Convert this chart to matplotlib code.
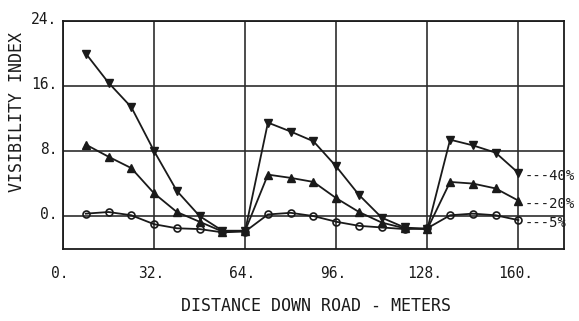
import numpy as np
import matplotlib
matplotlib.use("Agg")
import matplotlib.pyplot as plt
import matplotlib.transforms as mtransforms

# distance down road (m) and visibility index for each contrast level
dist = [8, 16, 24, 32, 40, 48, 56, 64, 72, 80, 88, 96, 104, 112, 120, 128, 136, 144, 152, 160]
vi_40 = [20.0, 16.4, 13.4, 8.0, 3.1, 0.0, -1.8, -1.8, 11.5, 10.4, 9.2, 6.1, 2.6, -0.2, -1.4, -1.6, 9.4, 8.7, 7.8, 5.3]
vi_20 = [8.8, 7.3, 5.9, 2.8, 0.5, -0.7, -1.9, -1.8, 5.1, 4.7, 4.2, 2.2, 0.5, -0.8, -1.5, -1.6, 4.2, 4.0, 3.4, 1.9]
vi_5 = [0.3, 0.5, 0.1, -1.0, -1.5, -1.6, -2.0, -1.9, 0.2, 0.4, 0.0, -0.7, -1.2, -1.4, -1.6, -1.5, 0.1, 0.3, 0.1, -0.5]
series_labels = ["---40%", "---20%", "---5%"]

xticks = [0, 32, 64, 96, 128, 160]
xtick_labels = ["0.", "32.", "64.", "96.", "128.", "160."]
yticks = [0, 8, 16, 24]
ytick_labels = ["0.", "8.", "16.", "24."]

ink = "#1a1a1a"
mono = "DejaVu Sans Mono"

fig = plt.figure(figsize=(5.79, 3.21), dpi=100)
ax = fig.add_axes([0.1088, 0.2243, 0.8652, 0.7103])

ax.set_xlim(0, 176)
ax.set_ylim(-4.05, 24)

ax.set_xticks(xticks)
ax.set_xticklabels(xtick_labels, fontfamily=mono, fontsize=10.5, color=ink)
ax.set_yticks(yticks)
ax.set_yticklabels(ytick_labels, fontfamily=mono, fontsize=10.5, color=ink)
ax.tick_params(length=0)
ax.tick_params(axis="x", pad=12)
ax.tick_params(axis="y", pad=4)

# nudge tick labels like the plotter output
for lab in ax.get_xticklabels():
    lab.set_transform(lab.get_transform() + mtransforms.ScaledTranslation(-3 / 100, 0, fig.dpi_scale_trans))
for lab in ax.get_yticklabels():
    lab.set_transform(lab.get_transform() + mtransforms.ScaledTranslation(0, 3 / 100, fig.dpi_scale_trans))

ax.grid(True, color="#2e2e2e", linewidth=1.2)
ax.set_axisbelow(True)
for sp in ax.spines.values():
    sp.set_color(ink)
    sp.set_linewidth(1.3)

lw = 1.3
ax.plot(dist, vi_40, color=ink, lw=lw, marker="v", ms=5.5, mfc=ink, mec=ink)
ax.plot(dist, vi_20, color=ink, lw=lw, marker="^", ms=5.5, mfc=ink, mec=ink)
ax.plot(dist, vi_5, color=ink, lw=lw, marker="o", ms=5, mfc="none", mec=ink, mew=1.2)

for vals, lab in zip([vi_40, vi_20, vi_5], series_labels):
    ax.annotate(lab, xy=(dist[-1], vals[-1]), xytext=(6, -3), textcoords="offset pixels",
                ha="left", va="center", fontfamily=mono, fontsize=10, color=ink,
                annotation_clip=False)

fig.text(17 / 579, 1 - 112 / 321, "VISIBILITY INDEX", rotation=90, ha="center", va="center",
         fontfamily=mono, fontsize=12, color=ink)
fig.text(316 / 579, 1 - 306 / 321, "DISTANCE DOWN ROAD - METERS", ha="center", va="center",
         fontfamily=mono, fontsize=12, color=ink)

fig.savefig("out.png", dpi=100)
